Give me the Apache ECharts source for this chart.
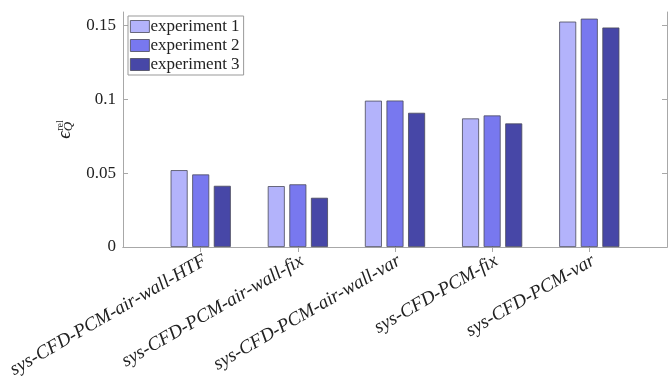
<!DOCTYPE html>
<html><head><meta charset="utf-8">
<script src="https://cdn.jsdelivr.net/npm/echarts@6/dist/echarts.min.js"></script>
<style>html,body{margin:0;padding:0;background:#fff}#c{width:668px;height:380px}</style>
</head><body><div id="c"></div>
<script>
const categories = ['sys-CFD-PCM-air-wall-HTF','sys-CFD-PCM-air-wall-fix','sys-CFD-PCM-air-wall-var','sys-CFD-PCM-fix','sys-CFD-PCM-var'];
const seriesNames = ['experiment 1','experiment 2','experiment 3'];
const exp1 = [0.0520, 0.0412, 0.0990, 0.0870, 0.1525];
const exp2 = [0.0491, 0.0424, 0.0991, 0.0890, 0.1545];
const exp3 = [0.0414, 0.0333, 0.0908, 0.0836, 0.1485];
const yTicks = [0, 0.05, 0.1, 0.15];

const colors = ['#b3b3fb','#7878ef','#4747a7'];
const positions = categories.map((c,i)=>i+1);
const font = '"Liberation Serif", "DejaVu Serif", serif';
const axisCol = '#a8a8a8';

function mk(name, vals, i){
  return {name, type:'bar', barWidth:17, barGap:'27%',
    data: vals.map((v,k)=>[positions[k], v]),
    itemStyle:{color:colors[i], borderColor:'#4a4a5a', borderWidth:0.8},
    xAxisIndex:0, yAxisIndex:0};
}
const chart = echarts.init(document.getElementById('c'));
const xBase = {type:'value', min:0.2, max:5.8, splitLine:{show:false},
  axisLine:{show:true, lineStyle:{color:axisCol, width:1}}};
const yBase = {type:'value', min:0, max:0.159, splitLine:{show:false},
  axisLine:{show:true, lineStyle:{color:axisCol, width:1}}};
chart.setOption({
  animation:false,
  textStyle:{fontFamily:font},
  grid:{left:123, right:1, top:12, bottom:133, containLabel:false, outerBoundsMode:'none'},
  legend:{orient:'vertical', left:128, top:16, padding:[2,4,2,2], itemGap:2,
    itemWidth:19, itemHeight:12, icon:'rect', borderColor:'#999', borderWidth:1, backgroundColor:'#fff',
    textStyle:{fontFamily:font, fontSize:17, color:'#222', padding:[0,0,0,-4]},
    itemStyle:{borderColor:'#4a4a5a', borderWidth:0.8},
    data:seriesNames},
  xAxis:[
    Object.assign({}, xBase, {position:'bottom',
      axisTick:{show:true, inside:true, length:5, customValues:positions, lineStyle:{color:axisCol}},
      axisLabel:{show:true, customValues:positions, rotate:30, margin:15, padding:[0,-5,0,0], fontFamily:font, fontStyle:'italic', fontSize:19, color:'#222',
        formatter:v=>categories[Math.round(v)-1]}}),
    Object.assign({}, xBase, {position:'top',
      axisTick:{show:true, inside:true, length:5, customValues:positions, lineStyle:{color:axisCol}},
      axisLabel:{show:false}})
  ],
  yAxis:[
    Object.assign({}, yBase, {position:'left',
      name:'{e|ϵ}{q|Q}{r|rel}', nameLocation:'middle', nameGap:48, nameRotate:90,
      nameTextStyle:{rich:{
        e:{fontFamily:font, fontSize:19, fontStyle:'italic', color:'#222', lineHeight:20, verticalAlign:'middle'},
        q:{fontFamily:font, fontSize:13, fontStyle:'italic', color:'#222', verticalAlign:'bottom'},
        r:{fontFamily:font, fontSize:10, color:'#222', verticalAlign:'top', padding:[0,0,0,-9]}
      }},
      axisTick:{show:true, inside:true, length:5, customValues:yTicks, lineStyle:{color:axisCol}},
      axisLabel:{show:true, customValues:yTicks, margin:7, fontFamily:font, fontSize:17, color:'#222',
        formatter:v=>String(v)}}),
    Object.assign({}, yBase, {position:'right',
      axisTick:{show:true, inside:true, length:5, customValues:yTicks, lineStyle:{color:axisCol}},
      axisLabel:{show:false}})
  ],
  series:[mk(seriesNames[0],exp1,0), mk(seriesNames[1],exp2,1), mk(seriesNames[2],exp3,2)]
});
</script></body></html>
